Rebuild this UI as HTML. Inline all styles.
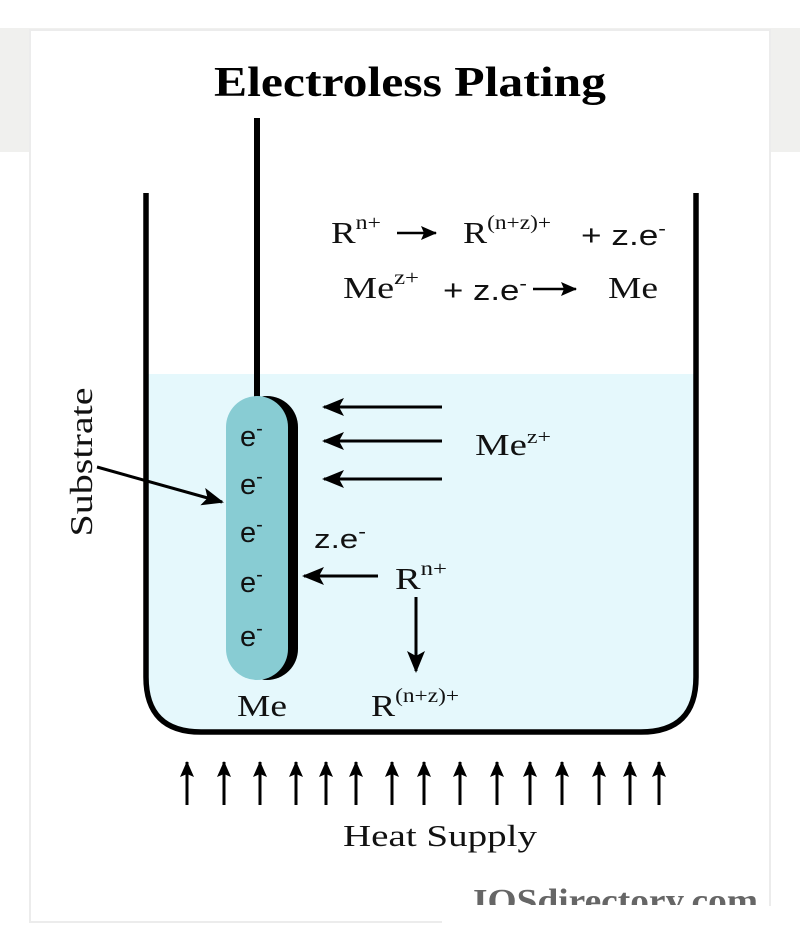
<!DOCTYPE html>
<html><head><meta charset="utf-8"><style>
html,body{margin:0;padding:0;background:#fff;}
svg{display:block;}
.s{font-family:"Liberation Serif",serif;fill:#111;}
.a{font-family:"Liberation Sans",sans-serif;fill:#111;}
</style></head><body>
<svg width="800" height="952" viewBox="0 0 800 952" xmlns="http://www.w3.org/2000/svg">
<defs>
<marker id="ahb" markerWidth="22" markerHeight="18" refX="20" refY="9" orient="auto" markerUnits="userSpaceOnUse" viewBox="0 0 22 18"><path d="M0,0 L22,9 L0,18 L5,9 z" fill="#000"/></marker>
<marker id="ahs" markerWidth="16" markerHeight="14" refX="15" refY="7" orient="auto" markerUnits="userSpaceOnUse" viewBox="0 0 16 14"><path d="M0,0 L16,7 L0,14 L3,7 z" fill="#000"/></marker>
</defs>
<rect x="0" y="28" width="800" height="124" fill="#f0f0ee"/>
<rect x="30" y="30" width="740" height="892" fill="#fff" stroke="#ececec" stroke-width="2"/>
<rect x="442" y="906" width="340" height="46" fill="#fff"/>
<text x="214" y="96" class="s" font-size="42" font-weight="bold" style="fill:#000" textLength="392" lengthAdjust="spacingAndGlyphs">Electroless Plating</text>
<path d="M146,374 L696,374 L696,677 Q696,732 641,732 L201,732 Q146,732 146,677 Z" fill="#e5f8fc"/>
<path d="M146,193 L146,677 Q146,732 201,732 L641,732 Q696,732 696,677 L696,193" fill="none" stroke="#000" stroke-width="5.5"/>
<line x1="257" y1="118" x2="257" y2="400" stroke="#000" stroke-width="6"/>
<rect x="236" y="396" width="62" height="284" rx="31" fill="#000"/>
<rect x="226" y="396" width="62" height="284" rx="31" fill="#88ccd3"/>
<g class="a" font-size="29">
<text x="240" y="446">e<tspan font-size="20" dy="-11">-</tspan></text>
<text x="240" y="494">e<tspan font-size="20" dy="-11">-</tspan></text>
<text x="240" y="542">e<tspan font-size="20" dy="-11">-</tspan></text>
<text x="240" y="592">e<tspan font-size="20" dy="-11">-</tspan></text>
<text x="240" y="646">e<tspan font-size="20" dy="-11">-</tspan></text>
</g>
<text x="237" y="716" class="s" font-size="31" textLength="50" lengthAdjust="spacingAndGlyphs">Me</text>
<text transform="translate(92,462) rotate(-90)" text-anchor="middle" class="s" font-size="32" textLength="149" lengthAdjust="spacingAndGlyphs">Substrate</text>
<line x1="97" y1="467" x2="222" y2="502" stroke="#000" stroke-width="3" marker-end="url(#ahb)"/>
<line x1="442" y1="407" x2="324" y2="407" stroke="#000" stroke-width="3" marker-end="url(#ahb)"/>
<line x1="442" y1="441" x2="324" y2="441" stroke="#000" stroke-width="3" marker-end="url(#ahb)"/>
<line x1="442" y1="479" x2="324" y2="479" stroke="#000" stroke-width="3" marker-end="url(#ahb)"/>
<text x="475" y="455" class="s" font-size="31" textLength="76" lengthAdjust="spacingAndGlyphs">Me<tspan font-size="19" dy="-12">z+</tspan></text>
<text x="314" y="548" class="a" font-size="27" textLength="52" lengthAdjust="spacingAndGlyphs">z.e<tspan font-size="19" dy="-10">-</tspan></text>
<line x1="378" y1="576" x2="304" y2="576" stroke="#000" stroke-width="3" marker-end="url(#ahb)"/>
<text x="395" y="589" class="s" font-size="31" textLength="52" lengthAdjust="spacingAndGlyphs">R<tspan font-size="20" dy="-14">n+</tspan></text>
<line x1="416" y1="597" x2="416" y2="671" stroke="#000" stroke-width="3" marker-end="url(#ahb)"/>
<text x="371" y="716" class="s" font-size="31" textLength="88" lengthAdjust="spacingAndGlyphs">R<tspan font-size="20" dy="-14">(n+z)+</tspan></text>
<text x="331" y="243" class="s" font-size="31" textLength="50" lengthAdjust="spacingAndGlyphs">R<tspan font-size="20" dy="-14">n+</tspan></text>
<line x1="397" y1="233" x2="436" y2="233" stroke="#000" stroke-width="2.5" marker-end="url(#ahs)"/>
<text x="463" y="243" class="s" font-size="31" textLength="88" lengthAdjust="spacingAndGlyphs">R<tspan font-size="20" dy="-14">(n+z)+</tspan></text>
<text x="581" y="245" class="a" font-size="29" textLength="85" lengthAdjust="spacingAndGlyphs">+ z.e<tspan font-size="19" dy="-10">-</tspan></text>
<text x="343" y="298" class="s" font-size="31" textLength="76" lengthAdjust="spacingAndGlyphs">Me<tspan font-size="20" dy="-14">z+</tspan></text>
<text x="443" y="300" class="a" font-size="29" textLength="84" lengthAdjust="spacingAndGlyphs">+ z.e<tspan font-size="19" dy="-10">-</tspan></text>
<line x1="533" y1="289" x2="576" y2="289" stroke="#000" stroke-width="2.5" marker-end="url(#ahs)"/>
<text x="608" y="298" class="s" font-size="31" textLength="50" lengthAdjust="spacingAndGlyphs">Me</text>
<g stroke="#000" stroke-width="3">
<line x1="187" y1="805" x2="187" y2="762" marker-end="url(#ahs)"/>
<line x1="224" y1="805" x2="224" y2="762" marker-end="url(#ahs)"/>
<line x1="260" y1="805" x2="260" y2="762" marker-end="url(#ahs)"/>
<line x1="296" y1="805" x2="296" y2="762" marker-end="url(#ahs)"/>
<line x1="326" y1="805" x2="326" y2="762" marker-end="url(#ahs)"/>
<line x1="356" y1="805" x2="356" y2="762" marker-end="url(#ahs)"/>
<line x1="392" y1="805" x2="392" y2="762" marker-end="url(#ahs)"/>
<line x1="424" y1="805" x2="424" y2="762" marker-end="url(#ahs)"/>
<line x1="460" y1="805" x2="460" y2="762" marker-end="url(#ahs)"/>
<line x1="497" y1="805" x2="497" y2="762" marker-end="url(#ahs)"/>
<line x1="530" y1="805" x2="530" y2="762" marker-end="url(#ahs)"/>
<line x1="562" y1="805" x2="562" y2="762" marker-end="url(#ahs)"/>
<line x1="599" y1="805" x2="599" y2="762" marker-end="url(#ahs)"/>
<line x1="630" y1="805" x2="630" y2="762" marker-end="url(#ahs)"/>
<line x1="659" y1="805" x2="659" y2="762" marker-end="url(#ahs)"/>
</g>
<text x="343" y="846" class="s" font-size="31" textLength="194" lengthAdjust="spacingAndGlyphs">Heat Supply</text>
<svg x="440" y="870" width="330" height="35" overflow="hidden">
<text x="33" y="42" class="s" font-size="34" font-weight="bold" style="fill:#666" textLength="285" lengthAdjust="spacingAndGlyphs">IOSdirectory.com</text>
</svg>
</svg>
</body></html>
